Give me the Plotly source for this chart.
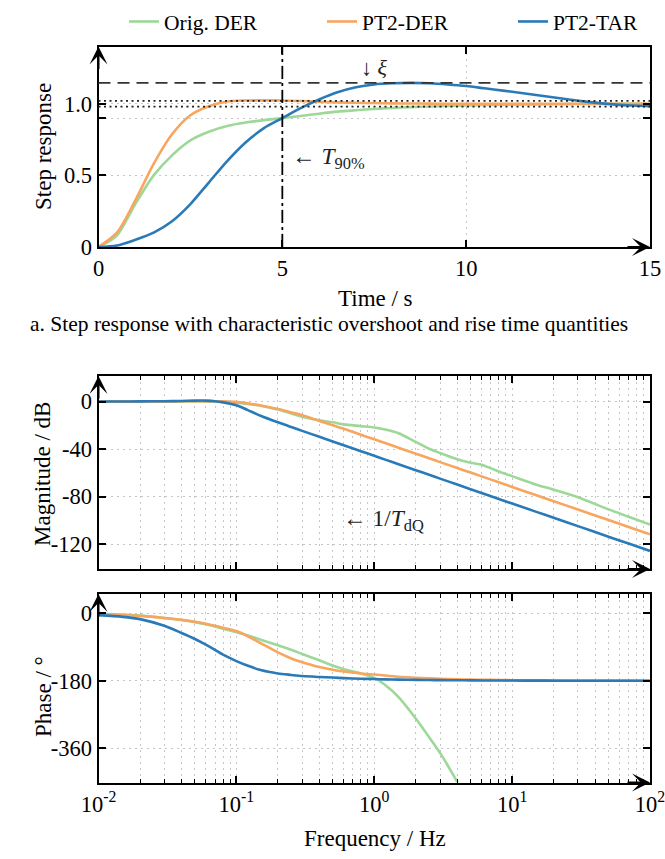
import math
import plotly.graph_objects as go

# ---------------- data ----------------
series_names = ["Orig. DER", "PT2-DER", "PT2-TAR"]

t_step = [0, 0.5, 1, 1.5, 2, 2.5, 3, 3.5, 4, 4.5, 5, 5.5, 6, 6.5, 7, 7.5,
          8, 8.5, 9, 9.5, 10, 10.5, 11, 11.5, 12, 12.5, 13, 13.5, 14, 14.5, 15]
step_orig = [0, 0.08, 0.30, 0.50, 0.64, 0.745, 0.805, 0.845, 0.869, 0.886, 0.900,
             0.915, 0.931, 0.945, 0.955, 0.964, 0.971, 0.977, 0.981, 0.985, 0.988,
             0.991, 0.993, 0.995, 0.996, 0.997, 0.998, 0.999, 0.999, 1.0, 1.0]
step_der = [0, 0.10, 0.325, 0.58, 0.787, 0.92, 0.983, 1.016, 1.023, 1.024, 1.023,
            1.019, 1.014, 1.010, 1.007, 1.005, 1.003, 1.002, 1.001, 1.0, 1.0,
            1.0, 1.0, 1.0, 1.0, 1.0, 1.0, 1.0, 1.0, 1.0, 1.0]
step_tar = [0, 0.01, 0.05, 0.10, 0.18, 0.30, 0.45, 0.60, 0.73, 0.83, 0.90,
            0.97, 1.03, 1.08, 1.115, 1.135, 1.143, 1.146, 1.143, 1.135, 1.124,
            1.108, 1.092, 1.075, 1.058, 1.04, 1.023, 1.008, 0.996, 0.988, 0.984]

freq = [0.01, 0.015, 0.02, 0.03, 0.04, 0.05, 0.06, 0.07, 0.08, 0.1, 0.12, 0.15,
        0.2, 0.25, 0.3, 0.4, 0.5, 0.6, 0.8, 1, 1.2, 1.5, 2, 2.5, 3, 4, 5, 6, 8,
        10, 15, 20, 30, 50, 70, 100]
mag_orig = [0, 0, 0, 0.05, 0.1, 0.1, 0.1, 0, -0.2, -1.0, -2.0, -3.5, -6.8, -10.0,
            -12.8, -15.8, -17.5, -19.2, -20.7, -21.9, -23.6, -26.7, -34.0, -39.8,
            -43.3, -48.6, -51.5, -53.2, -58.9, -62.8, -70.0, -74.2, -80.6, -90.8,
            -97.0, -103.6]
mag_der = [0, 0, 0.05, 0.1, 0.2, 0.3, 0.3, 0.3, 0.2, -0.3, -1.5, -3.3, -6.3, -9.2,
           -11.5, -16.3, -19.9, -22.9, -28.0, -31.8, -35.0, -38.9, -43.9, -47.8,
           -51.0, -56.0, -59.8, -63.0, -68.0, -71.9, -78.9, -83.9, -90.9, -99.8,
           -105.6, -111.8]
mag_tar = [0, 0.05, 0.1, 0.3, 0.5, 0.8, 0.8, 0.3, -0.7, -3.2, -7.0, -12.0, -17.5,
           -21.5, -24.7, -29.7, -33.6, -36.8, -41.8, -45.7, -48.9, -52.8, -57.8,
           -61.7, -64.9, -69.9, -73.8, -77.0, -82.0, -85.9, -92.9, -97.9, -104.9,
           -113.8, -119.6, -125.8]
ph_orig = [-1, -3, -5.5, -12, -17.5, -23, -29, -35, -40.5, -50, -58, -70, -85, -97,
           -108, -125, -139, -149, -160, -172, -191, -223, -280, -330, -372, -450,
           -520, None, None, None, None, None, None, None, None, None]
ph_der = [-2, -4, -6.5, -12, -17, -22, -27.5, -33, -38, -47, -60, -79, -104, -120,
          -130, -143, -150, -155, -160, -163, -165.5, -169, -171.5, -173, -174,
          -175.5, -176.5, -177, -177.5, -178, -178.3, -178.5, -178.8, -179, -179.2,
          -179.4]
ph_tar = [-4.5, -9, -15, -33, -52, -68, -83, -97, -110, -127, -139, -151, -160,
          -164, -167, -169.5, -171, -172.5, -174, -175, -175.8, -176.5, -177.2,
          -177.6, -177.9, -178.2, -178.5, -178.7, -178.9, -179, -179.2, -179.3,
          -179.4, -179.5, -179.6, -179.6]

overshoot_level = [1.146]
band_levels = [0.98, 1.02]
t90 = [5.0]
f_dq = [0.5]

step_ticks = [0, 5, 10, 15]
step_yticks = [0, 0.5, 0.9, 1.0]
step_yticktext = ["0", "0.5", "", "1.0"]
freq_ticks = [0.01, 0.1, 1, 10, 100]
freq_ticktext = ["10<sup>-2</sup>", "10<sup>-1</sup>", "10<sup>0</sup>",
                 "10<sup>1</sup>", "10<sup>2</sup>"]
mag_ticks = [0, -40, -80, -120]
mag_ticktext = ["0", "-40", "-80", "-120"]
ph_ticks = [0, -180, -360]
ph_ticktext = ["0", "-180", "-360"]

# ---------------- styling ----------------
FONT = "Liberation Serif, Times New Roman, serif"
colors = ["#9dd898", "#f8a55e", "#2a7ab8"]
W, H = 665, 859
GRID = "#c6c6c6"
GDASH = "2px,4px"
legend_ids = ["legend", "legend2", "legend3"]
legend_text_x = [166, 364, 555]


def px_x(p):
    return p / W


def px_y(p):
    return 1 - p / H


fig = go.Figure()

step_data = [step_orig, step_der, step_tar]
mag_data = [mag_orig, mag_der, mag_tar]
ph_data = [ph_orig, ph_der, ph_tar]
for i, name in enumerate(series_names):
    ln = dict(color=colors[i], width=2.6, shape="spline", smoothing=0.8)
    fig.add_trace(go.Scatter(x=t_step, y=step_data[i], mode="lines", name=name,
                             line=ln, legendgroup=name, legend=legend_ids[i],
                             xaxis="x", yaxis="y"))
    fig.add_trace(go.Scatter(x=freq, y=mag_data[i], mode="lines", name=name,
                             line=ln, legendgroup=name, showlegend=False,
                             xaxis="x2", yaxis="y2"))
    fig.add_trace(go.Scatter(x=freq, y=ph_data[i], mode="lines", name=name,
                             line=ln, legendgroup=name, showlegend=False,
                             xaxis="x3", yaxis="y3", connectgaps=False))

X_DOM = [px_x(98.5), px_x(650)]
common = dict(showline=True, linecolor="black", linewidth=2, mirror="ticks",
              ticks="inside", tickcolor="black", ticklen=7, tickwidth=1.5,
              tickfont=dict(family=FONT, size=22.5, color="black"), zeroline=False,
              showgrid=True, gridcolor=GRID, gridwidth=1, griddash=GDASH,
              automargin=False, ticklabeloverflow="allow")

minor_vals = [m * 10 ** e for e in range(-2, 2) for m in range(2, 10)]
minor = dict(tickvals=minor_vals, ticks="inside", ticklen=4, tickcolor="black",
             tickwidth=1.2, showgrid=True, gridcolor=GRID, griddash=GDASH, gridwidth=1)

legend_style = dict(orientation="h", y=px_y(1), yanchor="top", xanchor="left",
                    font=dict(family=FONT, size=21.5, color="black"),
                    bgcolor="rgba(0,0,0,0)", itemwidth=30)
legends = {}
for lid, tx in zip(legend_ids, legend_text_x):
    legends[lid] = dict(legend_style, x=px_x(tx - 42))

fig.update_layout(
    template="none",
    width=W, height=H,
    margin=dict(l=0, r=0, t=0, b=0),
    paper_bgcolor="white", plot_bgcolor="white",
    font=dict(family=FONT, size=22, color="black"),
    showlegend=True,
    **legends,
    xaxis=dict(common, domain=X_DOM, range=[0, 15], tickvals=step_ticks, anchor="y"),
    yaxis=dict(common, domain=[px_y(247), px_y(46.5)], range=[0, 1.4],
               tickvals=step_yticks, ticktext=step_yticktext, anchor="x"),
    xaxis2=dict(common, type="log", domain=X_DOM, range=[-2, 2], tickvals=freq_ticks,
                showticklabels=False, minor=minor, anchor="y2"),
    yaxis2=dict(common, domain=[px_y(569), px_y(376)], range=[-141, 21.5],
                tickvals=mag_ticks, ticktext=mag_ticktext, anchor="x2"),
    xaxis3=dict(common, type="log", domain=X_DOM, range=[-2, 2], tickvals=freq_ticks,
                ticktext=freq_ticktext, minor=minor, anchor="y3", matches="x2"),
    yaxis3=dict(common, domain=[px_y(782.5), px_y(594)], range=[-451, 52],
                tickvals=ph_ticks, ticktext=ph_ticktext, anchor="x3"),
)

shapes = []
shapes.append(dict(type="line", xref="x domain", yref="y", x0=0, x1=1,
                   y0=overshoot_level[0], y1=overshoot_level[0],
                   line=dict(color="#333333", width=1.6, dash="12px,7px"), layer="above"))
for b in band_levels:
    shapes.append(dict(type="line", xref="x domain", yref="y", x0=0, x1=1, y0=b, y1=b,
                       line=dict(color="#222222", width=1.6, dash="2px,3.5px"), layer="above"))
shapes.append(dict(type="line", xref="x", yref="y domain", x0=t90[0], x1=t90[0], y0=0, y1=1,
                   line=dict(color="black", width=1.8, dash="13px,4px,3px,4px"), layer="above"))
for xr, yr in [("x2", "y2"), ("x3", "y3")]:
    shapes.append(dict(type="line", xref=xr, yref=yr + " domain",
                       x0=math.log10(f_dq[0]), x1=math.log10(f_dq[0]), y0=0, y1=1,
                       line=dict(color="black", width=2.2, dash="13px,4px,3px,4px"),
                       layer="above"))
fig.update_layout(shapes=shapes)

ann = []
for xr, yr in [("x", "y"), ("x2", "y2"), ("x3", "y3")]:
    ann.append(dict(x=0, y=1, xref=xr + " domain", yref=yr + " domain", text="",
                    showarrow=True, ax=0, ay=24, arrowhead=3, arrowsize=1.5,
                    arrowwidth=2, arrowcolor="black", standoff=0))
    ann.append(dict(x=1, y=0, xref=xr + " domain", yref=yr + " domain", text="",
                    showarrow=True, ax=-24, ay=0, arrowhead=3, arrowsize=1.5,
                    arrowwidth=2, arrowcolor="black", standoff=0))

tf = dict(family=FONT, size=23, color="black")
ann.append(dict(text="Time / s", x=px_x(375), y=px_y(298), xref="paper", yref="paper",
                showarrow=False, font=tf, xanchor="center", yanchor="middle"))
ann.append(dict(text="Step response", x=px_x(43), y=px_y(147), xref="paper", yref="paper",
                showarrow=False, font=tf, textangle=-90, xanchor="center", yanchor="middle"))
ann.append(dict(text="a. Step response with characteristic overshoot and rise time quantities",
                x=px_x(329), y=px_y(324), xref="paper", yref="paper", showarrow=False,
                font=dict(family=FONT, size=21.5, color="black"),
                xanchor="center", yanchor="middle"))
ann.append(dict(text="Magnitude / dB", x=px_x(43), y=px_y(474), xref="paper", yref="paper",
                showarrow=False, font=tf, textangle=-90, xanchor="center", yanchor="middle"))
ann.append(dict(text="Phase / °", x=px_x(43), y=px_y(697), xref="paper", yref="paper",
                showarrow=False, font=tf, textangle=-90, xanchor="center", yanchor="middle"))
ann.append(dict(text="Frequency / Hz", x=px_x(375), y=px_y(838), xref="paper", yref="paper",
                showarrow=False, font=tf, xanchor="center", yanchor="middle"))

ann.append(dict(text="↓ <i>ξ</i>", x=7.5, y=1.25, xref="x", yref="y", showarrow=False,
                font=dict(family=FONT, size=22, color="#222"), xanchor="center", yanchor="middle"))
ann.append(dict(text="← <i>T</i><sub>90%</sub>", x=5.22, y=0.62, xref="x", yref="y",
                showarrow=False, font=dict(family=FONT, size=23.5, color="#222"),
                xanchor="left", yanchor="middle"))
ann.append(dict(text="← 1/<i>T</i><sub>dQ</sub>", x=math.log10(f_dq[0]) + 0.06, y=-100,
                xref="x2", yref="y2", showarrow=False,
                font=dict(family=FONT, size=23.5, color="#222"),
                xanchor="left", yanchor="middle"))
fig.update_layout(annotations=ann)

fig.write_html("out.html", config={"displayModeBar": False},
               post_script="document.body.style.margin='0px';document.body.style.overflow='hidden';")
